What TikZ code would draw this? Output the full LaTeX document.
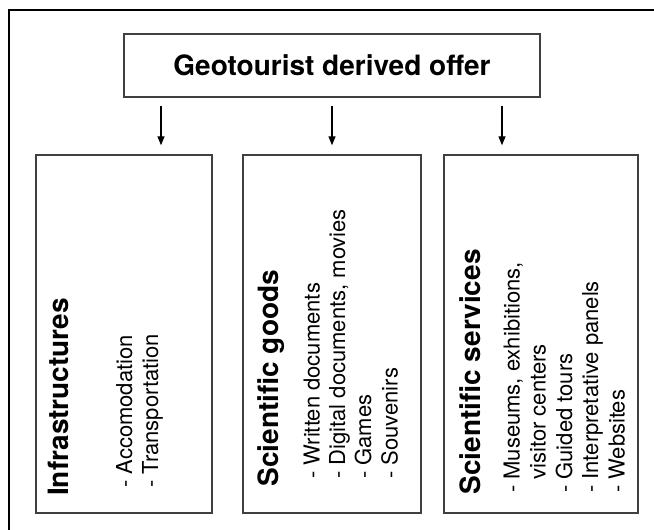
\documentclass[tikz,border=0pt]{standalone}
\usepackage{fontspec}
\setmainfont{TeX Gyre Heros}
\usetikzlibrary{arrows.meta}

\tikzset{
  box/.style={draw=black!75, line width=1.4pt, inner sep=0pt},
  head/.style={font=\fontsize{28}{33}\selectfont\bfseries, inner sep=0pt, rotate=90, anchor=base west},
  item/.style={font=\fontsize{22}{26}\selectfont, inner sep=0pt, rotate=90, anchor=base west},
  arr/.style={-{Triangle[length=9pt,width=7pt]}, line width=1.3pt, shorten <=8pt, shorten >=9pt}
}

\begin{document}
\begin{tikzpicture}[x=1pt, y=-1pt]
  \useasboundingbox (0,0) rectangle (654,530);
  % outer frame (cut at right and bottom)
  \draw[line width=1.6pt] (654,10) -- (9,10) -- (9,530);

  % top box
  \node[box, minimum width=416pt, minimum height=63pt,
        font=\fontsize{28}{33}\selectfont\bfseries] (offer) at (332,65.5) {Geotourist derived offer};

  % three boxes below
  \node[box, minimum width=176pt, minimum height=358pt] (infra) at (124,334) {};
  \node[box, minimum width=178pt, minimum height=358pt] (goods) at (332,334) {};
  \node[box, minimum width=194pt, minimum height=358pt] (serv) at (541,334) {};

  % arrows
  \coordinate (a1) at ([xshift=-171pt]offer.south);
  \coordinate (a2) at (offer.south);
  \coordinate (a3) at ([xshift=170pt]offer.south);
  \draw[arr] (a1) -- (a1 |- infra.north);
  \draw[arr] (a2) -- (a2 |- goods.north);
  \draw[arr] (a3) -- (a3 |- serv.north);

  % Infrastructures
  \node[head] (infra-t) at (68,496) {Infrastructures};
  \node[item] (infra-1) at (132,488) {- Accomodation};
  \node[item] (infra-2) at (158,488) {- Transportation};

  % Scientific goods
  \node[head] (goods-t) at (278,486.5) {Scientific goods};
  \node[item] (goods-1) at (319.5,479) {- Written documents};
  \node[item] (goods-2) at (345,479) {- Digital documents, movies};
  \node[item] (goods-3) at (371,479) {- Games};
  \node[item] (goods-4) at (397.5,479) {- Souvenirs};

  % Scientific services
  \node[head] (serv-t) at (480,494.5) {Scientific services};
  \node[item] (serv-1) at (519.5,493) {- Museums, exhibitions,};
  \node[item] (serv-2) at (545.5,493) {\hphantom{- }visitor centers};
  \node[item] (serv-3) at (572,493) {- Guided tours};
  \node[item] (serv-4) at (598,493) {- Interpretative panels};
  \node[item] (serv-5) at (624.5,493) {- Websites};
\end{tikzpicture}
\end{document}
